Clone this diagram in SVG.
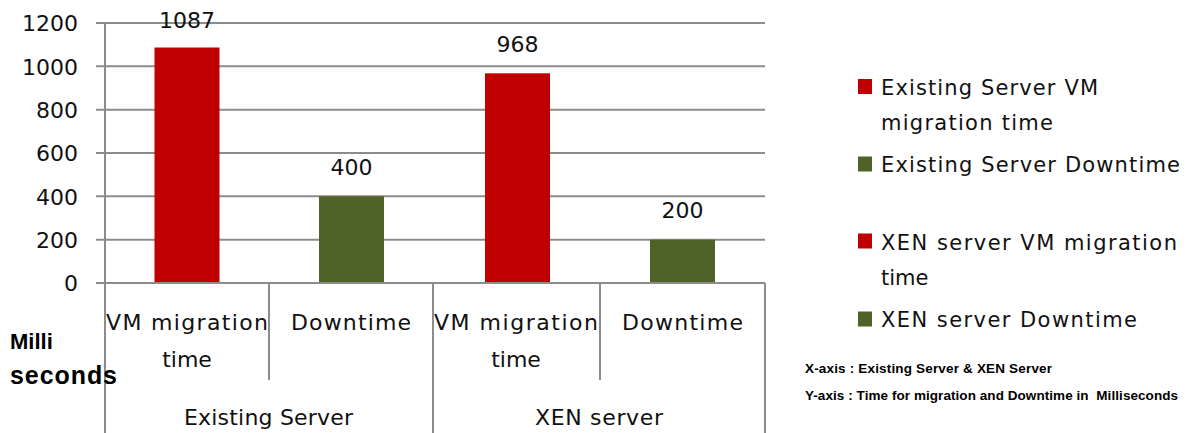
<svg xmlns="http://www.w3.org/2000/svg" width="1187" height="433" viewBox="0 0 1187 433">
<style>
.grid{stroke:#8c8c8c;stroke-width:2;fill:none}
.ax{stroke:#8c8c8c;stroke-width:2;fill:none}
.num{font-family:"DejaVu Sans",Verdana,sans-serif;font-size:22px;fill:#111}
.cat{font-family:"DejaVu Sans",Verdana,sans-serif;font-size:22px;fill:#111;text-anchor:middle}
.leg{font-family:"DejaVu Sans",Verdana,sans-serif;font-size:21px;fill:#111}
.bold{font-family:"Liberation Sans",Arial,sans-serif;font-weight:bold;fill:#000}
.red{fill:#C00000}
.green{fill:#4F6228}
</style>
<rect width="1187" height="433" fill="#fff"/>
<g id="gridlines">
<line class="grid" x1="96" y1="23" x2="765" y2="23"/>
<line class="grid" x1="96" y1="66.3" x2="765" y2="66.3"/>
<line class="grid" x1="96" y1="109.7" x2="765" y2="109.7"/>
<line class="grid" x1="96" y1="153" x2="765" y2="153"/>
<line class="grid" x1="96" y1="196.3" x2="765" y2="196.3"/>
<line class="grid" x1="96" y1="239.7" x2="765" y2="239.7"/>
</g>
<g id="y-labels" class="num" text-anchor="end">
<text x="78" y="31">1200</text>
<text x="78" y="74.5">1000</text>
<text x="78" y="118">800</text>
<text x="78" y="161">600</text>
<text x="78" y="204.5">400</text>
<text x="78" y="248">200</text>
<text x="78" y="291">0</text>
</g>
<g id="bars">
<rect class="red" x="154.5" y="47.5" width="65" height="235.5"/>
<rect class="green" x="319" y="196.3" width="65" height="86.7"/>
<rect class="red" x="485" y="73.3" width="65" height="209.7"/>
<rect class="green" x="650" y="239.7" width="65" height="43.3"/>
</g>
<g id="value-labels" class="num" text-anchor="middle">
<text x="187" y="28">1087</text>
<text x="351.5" y="175">400</text>
<text x="517.5" y="52">968</text>
<text x="682.5" y="218">200</text>
</g>
<g id="axes">
<line class="ax" x1="96" y1="283" x2="765" y2="283"/>
<line class="ax" x1="105" y1="23" x2="105" y2="433"/>
<line class="ax" x1="269" y1="283" x2="269" y2="380"/>
<line class="ax" x1="433" y1="283" x2="433" y2="433"/>
<line class="ax" x1="600" y1="283" x2="600" y2="380"/>
<line class="ax" x1="765" y1="283" x2="765" y2="433"/>
</g>
<g id="category-labels" class="cat">
<text x="187" y="330" textLength="162">VM migration</text>
<text x="187" y="367">time</text>
<text x="351" y="330" textLength="120">Downtime</text>
<text x="516" y="330" textLength="164">VM migration</text>
<text x="516" y="367">time</text>
<text x="682.5" y="330" textLength="121">Downtime</text>
<text x="268.5" y="425" textLength="169">Existing Server</text>
<text x="599" y="425" textLength="128">XEN server</text>
</g>
<g id="axis-unit" class="bold">
<text x="10" y="349" font-size="22">Milli</text>
<text x="10" y="384" font-size="25" textLength="107">seconds</text>
</g>
<g id="legend">
<g id="legend-1">
<rect class="red" x="858" y="79" width="14" height="15"/>
<text class="leg" x="881" y="95" textLength="217">Existing Server VM</text>
<text class="leg" x="881" y="130" textLength="172">migration time</text>
</g>
<g id="legend-2">
<rect class="green" x="858" y="156.5" width="14" height="15"/>
<text class="leg" x="881" y="171.5" textLength="299">Existing Server Downtime</text>
</g>
<g id="legend-3">
<rect class="red" x="858" y="233.5" width="14" height="15"/>
<text class="leg" x="881" y="250" textLength="296">XEN server VM migration</text>
<text class="leg" x="881" y="285">time</text>
</g>
<g id="legend-4">
<rect class="green" x="858" y="311.5" width="14" height="15"/>
<text class="leg" x="881" y="326.5" textLength="256">XEN server Downtime</text>
</g>
</g>
<g id="axis-notes" class="bold" font-size="13.5">
<text x="805" y="373" textLength="247">X-axis : Existing Server &amp; XEN Server</text>
<text x="805" y="400" textLength="373" xml:space="preserve">Y-axis : Time for migration and Downtime in  Milliseconds</text>
</g>
</svg>
